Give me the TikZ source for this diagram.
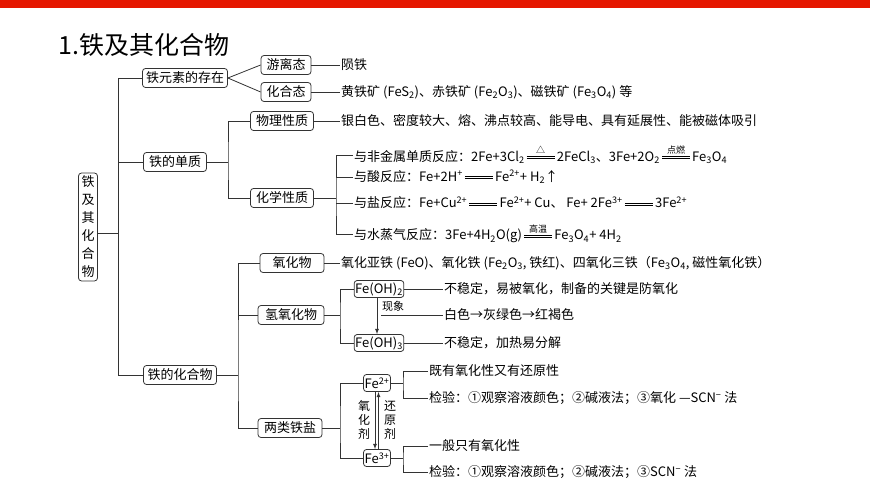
\documentclass[tikz,border=0pt]{standalone}
\usepackage{fontspec}
\setmainfont{Noto Sans CJK SC}
\newcommand\deq[2][28pt]{\,\makebox[#1]{\rlap{\rule[2.2pt]{#1}{0.6pt}}\rlap{\rule[4.6pt]{#1}{0.6pt}}\raisebox{7.5pt}{\makebox[#1]{\fontsize{9}{9}\selectfont #2}}}\,}
\newcommand\sub[1]{\textsubscript{#1}}
\newcommand\sups[1]{\textsuperscript{#1}}
\definecolor{ln}{HTML}{333333}
\tikzset{
 box/.style={draw=ln,rounded corners=3pt,inner sep=2pt,minimum height=19pt,font=\fontsize{13}{13}\selectfont,line width=0.8pt},
 txt/.style={anchor=west,inner sep=1pt,font=\fontsize{13}{13}\selectfont},
 con/.style={draw=ln,line width=0.8pt},
}
\begin{document}
\begin{tikzpicture}[x=1pt,y=-1pt]
\useasboundingbox (0,0) rectangle (870,489);
\fill[red!80!orange!90!black] (0,0) rectangle (870,8);
\node[anchor=west,inner sep=0,font=\fontsize{25}{25}\selectfont] (title) at (58,45) {1.铁及其化合物};
% root
\node[box,text width=13pt,align=center,inner sep=3pt,font=\fontsize{13}{18}\selectfont] (root) at (88,227) {铁\\及\\其\\化\\合\\物};
\coordinate (t1) at (118,78); \coordinate (t2) at (118,375);
% level 1
\node[box,minimum width=85pt] (n1) at (185,78) {铁元素的存在};
\node[box,minimum width=63pt] (n2) at (175,162) {铁的单质};
\node[box,minimum width=73pt] (n3) at (180,375) {铁的化合物};
\draw[con] (root.east|-0,233) -- (118,233);
\draw[con] (t1) -- (t2);
\draw[con] (t1) -- (n1.west);
\draw[con] (n2.west) -- (n2.west-|t1);
\draw[con] (n3.west) -- (t2);
% existence
\node[box,minimum width=50pt] (a1) at (286,65) {游离态};
\node[box,minimum width=50pt] (a2) at (286,92) {化合态};
\draw[con] (n1.east) -- (a1.west);
\draw[con] (n1.east) -- (a2.west);
\node[txt] (a1t) at (340,65) {陨铁};
\node[txt] (a2t) at (340,92) {黄铁矿 (FeS\sub{2})、赤铁矿 (Fe\sub{2}O\sub{3})、磁铁矿 (Fe\sub{3}O\sub{4}) 等};
\draw[con] (a1.east) -- (a1t.west);
\draw[con] (a2.east) -- (a2t.west);
% element
\coordinate (b0) at (228,162);
\node[box,minimum width=63pt] (b1) at (282,121) {物理性质};
\node[box,minimum width=63pt] (b2) at (282,198) {化学性质};
\draw[con] (n2.east) -- (b0);
\draw[con] (b1.west) -| (b0) |- (b2.west);
\node[txt] (b1t) at (340,121) {银白色、密度较大、熔、沸点较高、能导电、具有延展性、能被磁体吸引};
\draw[con] (b1.east) -- (b1t.west);
\coordinate (c0) at (336,198);
\node[txt] (c1) at (353,155) {与非金属单质反应：2Fe+3Cl\sub{2}\deq{△}2FeCl\sub{3}、3Fe+2O\sub{2}\deq{点燃}Fe\sub{3}O\sub{4}};
\node[txt] (c2) at (353,177) {与酸反应：Fe+2H\sups{+}\deq{}Fe\sups{2+}+ H\sub{2}↑};
\node[txt] (c3) at (353,203) {与盐反应：Fe+Cu\sups{2+}\deq{}Fe\sups{2+}+ Cu、 Fe+ 2Fe\sups{3+}\deq{}3Fe\sups{2+}};
\node[txt] (c4) at (353,234) {与水蒸气反应：3Fe+4H\sub{2}O(g)\deq{高温}Fe\sub{3}O\sub{4}+ 4H\sub{2}};
\draw[con] (b2.east) -- (c0);
\draw[con] (c1.west) -| (c0) |- (c4.west);
\draw[con] (c2.west) -- (c2.west-|c0);
\draw[con] (c3.west) -- (c3.west-|c0);
% compounds
\coordinate (d0) at (238,375);
\node[box,minimum width=64pt] (d1) at (292,263) {氧化物};
\node[box,minimum width=66pt] (d2) at (291,315) {氢氧化物};
\node[box,minimum width=64pt] (d3) at (290,428) {两类铁盐};
\draw[con] (n3.east) -- (d0);
\draw[con] (d1.west) -| (d0) |- (d3.west);
\draw[con] (d2.west) -- (d2.west-|d0);
\node[txt] (d1t) at (340,263) {氧化亚铁 (FeO)、氧化铁 (Fe\sub{2}O\sub{3}, 铁红)、四氧化三铁（Fe\sub{3}O\sub{4}, 磁性氧化铁）};
\draw[con] (d1.east) -- (d1t.west);
% hydroxides
\coordinate (e0) at (340,315);
\node[box,minimum height=17pt,minimum width=34pt,inner sep=1pt] (e1) at (379,289) {Fe(OH)\sub{2}};
\node[box,minimum height=17pt,minimum width=34pt,inner sep=1pt] (e2) at (379,343) {Fe(OH)\sub{3}};
\draw[con] (d2.east) -- (e0);
\draw[con] (e1.west) -| (e0) |- (e2.west);
\node[txt] (e1t) at (443,289) {不稳定，易被氧化，制备的关键是防氧化};
\node[txt] (e2t) at (443,343) {不稳定，加热易分解};
\node[txt] (e3t) at (443,315) {白色→灰绿色→红褐色};
\draw[con] (e1.east) -- (e1t.west);
\draw[con] (e2.east) -- (e2t.west);
\draw[con,-latex] (e1.south-|377,0) -- (e2.north-|377,0);
\node[txt,font=\fontsize{11}{11}\selectfont] (xx) at (381,306) {现象};
\coordinate (e3) at (381,315);
\draw[con] (e3) -- (e3t.west);
% salts
\coordinate (f0) at (340,428);
\node[box,minimum height=17pt,minimum width=27pt,inner sep=1pt] (f1) at (377,383) {Fe\sups{2+}};
\node[box,minimum height=17pt,minimum width=27pt,inner sep=1pt] (f2) at (377,458) {Fe\sups{3+}};
\draw[con] (d3.east) -- (f0);
\draw[con] (f1.west) -| (f0) |- (f2.west);
\draw[con,-latex] ([xshift=-2pt]f1.south) -- ([xshift=-2pt]f2.north);
\draw[con,-latex] ([xshift=1.5pt]f2.north) -- ([xshift=1.5pt]f1.south);
\node[inner sep=0,align=center,font=\fontsize{12}{14}\selectfont] (ox) at (364,420) {氧\\化\\剂};
\node[inner sep=0,align=center,font=\fontsize{12}{14}\selectfont] (re) at (390,420) {还\\原\\剂};
\coordinate (g1) at (403,383); \coordinate (g2) at (403,458);
\node[txt] (g1a) at (428,371) {既有氧化性又有还原性};
\node[txt] (g1b) at (428,398) {检验：①观察溶液颜色；②碱液法；③氧化 —SCN\sups{−} 法};
\node[txt] (g2a) at (428,446) {一般只有氧化性};
\node[txt] (g2b) at (428,472) {检验：①观察溶液颜色；②碱液法；③SCN\sups{−} 法};
\draw[con] (f1.east) -- (g1);
\draw[con] (g1a.west) -| (g1) |- (g1b.west);
\draw[con] (f2.east) -- (g2);
\draw[con] (g2a.west) -| (g2) |- (g2b.west);
\end{tikzpicture}
\end{document}
